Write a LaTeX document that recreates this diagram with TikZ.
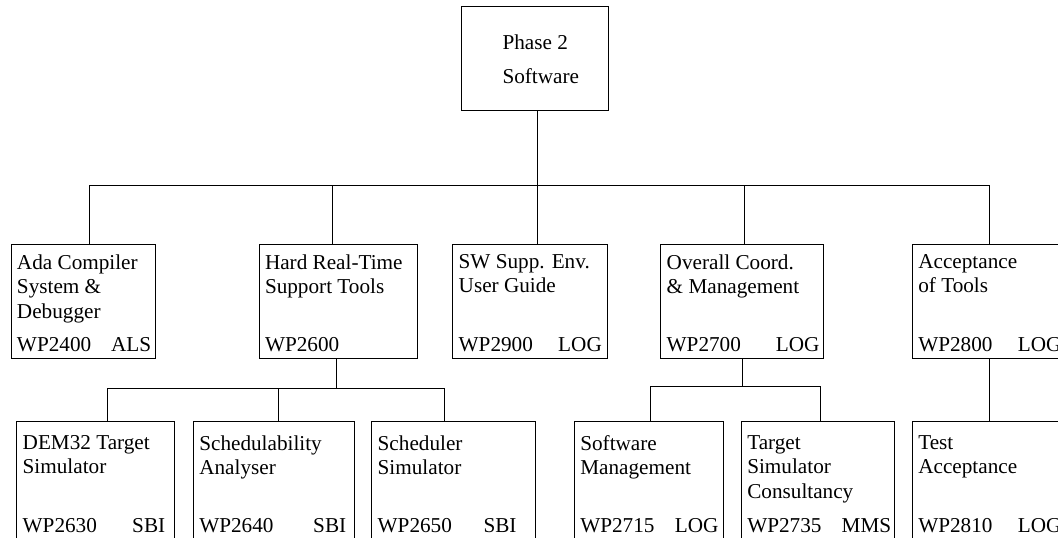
\documentclass[tikz,border=0pt]{standalone}
\usepackage{fontspec}
\setmainfont{Liberation Serif}
\usetikzlibrary{calc}

\begin{document}
\begin{tikzpicture}[
  x=0.5pt, y=-0.5pt,
  line width=0.5pt,
  box/.style={draw, rectangle, inner sep=0pt, outer sep=0pt},
  txt/.style={inner sep=0pt, align=left, font=\fontsize{10.6}{12.25}\selectfont},
]

  \useasboundingbox (0,0) rectangle (1058,537);
  \clip (0,0) rectangle (1058,537);

  \def\wpbox#1#2#3#4#5#6#7{
    \node[box, minimum width={(#3-#2)*0.5pt}, minimum height={\rowht*0.5pt}, anchor=north west] (#1) at (#2,\rowtop) {};
    \node[txt, anchor=north west] (#1-t) at ($(#1.north west)+(5.5,\titledy)$) {#4};
    \node[txt, anchor=base west] (#1-c) at ($(#1.north west)+(5.5,\codedy)$) {#5};
    \node[txt, anchor=base east] (#1-o) at ($(#1.north east)+(-#7,\codedy)$) {#6};
  }

  \node[box, minimum width=73.3pt, minimum height=52pt, anchor=north west] (phase) at (461.7,6.7) {};
  \node[txt, anchor=north west, font=\fontsize{10.6}{16.7}\selectfont] (phase-t)
    at ($(phase.north west)+(40.3,27.8)$) {Phase 2\\Software};

  \def\rowtop{244}\def\rowht{114}\def\titledy{9.8}\def\codedy{107.7}
  \wpbox{ada}{11}{155.7}{Ada Compiler\\System \&\\Debugger}{WP2400}{ALS}{4}
  \wpbox{hard}{259}{417.7}{Hard Real-Time\\Support Tools}{WP2600}{}{0}
  \wpbox{sw}{452.7}{607.3}{SW Supp. Env.\\User Guide}{WP2900}{LOG}{5}
  \wpbox{ovr}{660.7}{823.3}{Overall Coord.\\\& Management}{WP2700}{LOG}{3.3}
  \wpbox{acc}{912.3}{1067}{Acceptance\\of Tools}{WP2800}{LOG}{5}

  \def\rowtop{421}\def\rowht{124}\def\titledy{13.9}\def\codedy{111.7}
  \wpbox{dem}{16.7}{174.3}{DEM32 Target\\Simulator}{WP2630}{SBI}{8.6}
  \wpbox{sched}{193.3}{354}{Schedulability\\Analyser}{WP2640}{SBI}{7.3}
  \wpbox{sim}{371.7}{535}{Scheduler\\Simulator}{WP2650}{SBI}{18}
  \wpbox{swm}{574.3}{723.3}{Software\\Management}{WP2715}{LOG}{4.3}
  \wpbox{tgt}{741.3}{894.3}{Target\\Simulator\\Consultancy}{WP2735}{MMS}{2.6}
  \wpbox{test}{912.3}{1067}{Test\\Acceptance}{WP2810}{LOG}{5}

  \coordinate (bus) at (537,185);
  \coordinate (bus2) at (336.5,388);
  \coordinate (bus3) at (742.7,386);

  \draw (phase.south -| bus) -- (bus) -- (sw.north -| bus);
  \foreach \n/\dx in {ada/3, hard/-2.8, ovr/1, acc/0}
    \draw ([xshift=\dx pt]\n.north) |- (bus);

  \draw (hard.south -| bus2) -- (bus2);
  \foreach \n/\dx in {dem/6.1, sched/2.3, sim/-4.2}
    \draw ([xshift=\dx pt]\n.north) |- (bus2);

  \draw (ovr.south -| bus3) -- (bus3);
  \foreach \n/\dx in {swm/0.6, tgt/1.1}
    \draw ([xshift=\dx pt]\n.north) |- (bus3);

  \draw (acc.south) -- (test.north);

\end{tikzpicture}
\end{document}
